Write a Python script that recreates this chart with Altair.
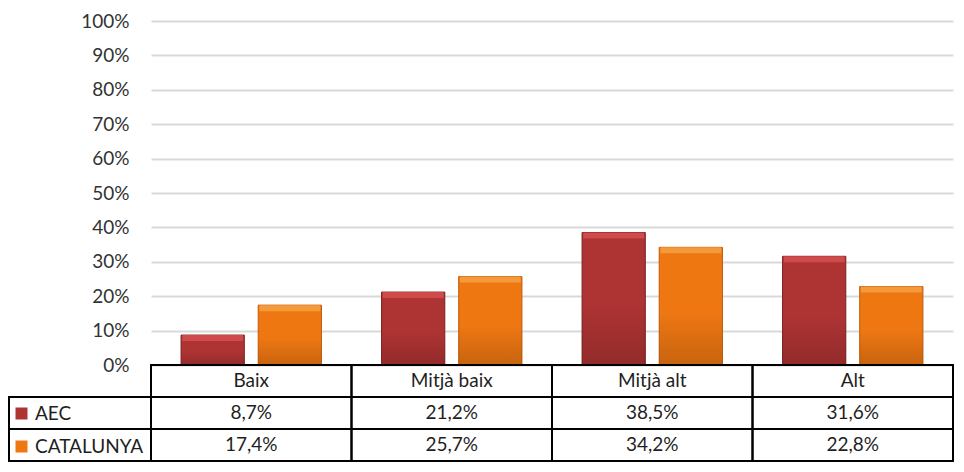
import altair as alt
import pandas as pd

categories = ["Baix", "Mitjà baix", "Mitjà alt", "Alt"]
series_names = ["AEC", "CATALUNYA"]
aec_values = [8.7, 21.2, 38.5, 31.6]
catalunya_values = [17.4, 25.7, 34.2, 22.8]
y_ticks = [0, 10, 20, 30, 40, 50, 60, 70, 80, 90, 100]
row_names = ["header"] + series_names

body_colors = ["#AE3333", "#EE7712"]
edge_colors = ["#7B2020", "#C05A08"]
cap_colors = ["#CF4A4A", "#F49A3A"]

FONT = "Lato"
FS = 19
TEXT_COLOR = "#1F1F1F"
LEFT_W = 142
PLOT_W = 802
PLOT_H = 344
TABLE_H = 96


def fmt(v):
    return f"{v:.1f}".replace(".", ",") + "%"


bar_rows = []
for s, vals in zip(series_names, [aec_values, catalunya_values]):
    for c, v in zip(categories, vals):
        bar_rows.append({"category": c, "series": s, "value": v, "label": fmt(v)})
bar_df = pd.DataFrame(bar_rows)

table_rows = [{"category": c, "row": "header", "text": c} for c in categories]
table_rows += [{"category": r["category"], "row": r["series"], "text": r["label"]} for r in bar_rows]
table_df = pd.DataFrame(table_rows)
label_df = pd.DataFrame({"row": series_names})

x_scale = alt.Scale(domain=categories, paddingInner=0, paddingOuter=0)
row_scale = alt.Scale(domain=row_names, paddingInner=0, paddingOuter=0)

x_enc = alt.X("category:N", sort=categories, scale=x_scale, axis=None)
xo_enc = alt.XOffset("series:N", sort=series_names,
                     scale=alt.Scale(domain=series_names, paddingInner=0.18, paddingOuter=0.39))
y_enc = alt.Y("value:Q", scale=alt.Scale(domain=[0, 100], nice=False),
              axis=alt.Axis(values=y_ticks, labelExpr="datum.value + '%'", grid=True,
                            gridColor="#D9D9D9", gridWidth=2, domain=False, ticks=False,
                            labelPadding=22, labelFont=FONT, labelFontSize=FS,
                            labelColor="#333333", title=None))

base = alt.Chart(bar_df).encode(x=x_enc, xOffset=xo_enc, y=y_enc)

bars = base.mark_bar(strokeWidth=1).encode(
    color=alt.Color("series:N", sort=series_names,
                    scale=alt.Scale(domain=series_names, range=body_colors),
                    legend=alt.Legend(orient="none", legendX=3, legendY=PLOT_H + TABLE_H / 3 + 7,
                                      title=None, symbolType="square", symbolSize=144,
                                      symbolStrokeWidth=0, labelFont=FONT, labelFontSize=FS,
                                      labelColor=TEXT_COLOR, rowPadding=13, labelOffset=4,
                                      padding=0)),
    stroke=alt.Stroke("series:N", sort=series_names,
                      scale=alt.Scale(domain=series_names, range=edge_colors), legend=None),
)

shade = base.mark_bar(color=alt.Gradient(
    gradient="linear",
    stops=[alt.GradientStop(color="rgba(0,0,0,0)", offset=0),
           alt.GradientStop(color="rgba(0,0,0,0)", offset=0.55),
           alt.GradientStop(color="rgba(0,0,0,0.16)", offset=1)],
    x1=0, x2=0, y1=0, y2=1))

caps = base.mark_tick(thickness=6, yOffset=3, size=61, opacity=1).encode(
    fill=alt.Fill("series:N", sort=series_names,
                  scale=alt.Scale(domain=series_names, range=cap_colors), legend=None)
)

bar_chart = alt.layer(bars, shade, caps).properties(width=PLOT_W, height=PLOT_H)

spacer = alt.Chart(pd.DataFrame({"v": [0]})).mark_point(opacity=0).encode(
    x=alt.X("v:Q", axis=None), y=alt.Y("v:Q", axis=None)
).properties(width=LEFT_W, height=PLOT_H)

label_col = alt.Chart(label_df).mark_rect(fillOpacity=0, stroke="black", strokeWidth=2).encode(
    y=alt.Y("row:N", sort=row_names, scale=row_scale, axis=None)
).properties(width=LEFT_W, height=TABLE_H)

table_base = alt.Chart(table_df).encode(
    x=alt.X("category:N", sort=categories, scale=x_scale, axis=None),
    y=alt.Y("row:N", sort=row_names, scale=row_scale, axis=None),
)
cells = table_base.mark_rect(fillOpacity=0, stroke="black", strokeWidth=2)
texts = table_base.mark_text(font=FONT, fontSize=FS, color=TEXT_COLOR).encode(text="text:N")
table = alt.layer(cells, texts).properties(width=PLOT_W, height=TABLE_H)

chart = alt.concat(
    spacer, bar_chart, label_col, table,
    columns=2, spacing=0, bounds="flush", align="each",
).configure(font=FONT).configure_view(stroke="transparent", strokeWidth=0).properties(
    padding={"left": 0, "top": 4, "right": 0, "bottom": 0}
)

chart.save("out.html", embed_options={"renderer": "svg", "actions": False})
